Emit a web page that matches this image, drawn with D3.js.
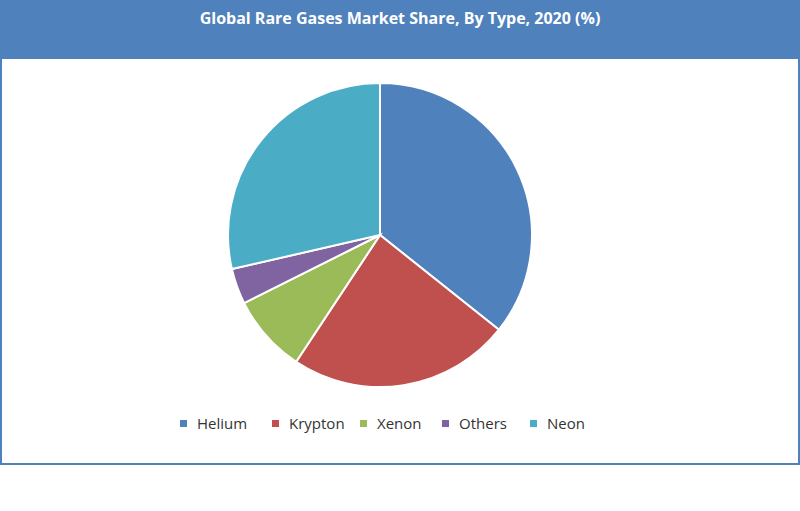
<!DOCTYPE html>
<html><head><meta charset="utf-8">
<script src="https://cdn.jsdelivr.net/npm/d3@7"></script>
<style>body{margin:0;background:#fff}</style>
</head><body>
<svg id="chart" width="800" height="511"></svg>
<script>
const categories = ["Helium", "Krypton", "Xenon", "Others", "Neon"];
const shares = [35.7, 23.6, 8.3, 3.8, 28.6];
const colors = ["#4f81bd", "#c0504d", "#9bbb59", "#8064a2", "#4bacc6"];

const svg = d3.select("#chart");
svg.append("rect").attr("x", 0).attr("y", 0).attr("width", 800).attr("height", 58).attr("fill", "#4f81bd");
svg.append("rect").attr("x", 1).attr("y", 58).attr("width", 798).attr("height", 406)
    .attr("fill", "#fff").attr("stroke", "#4f81bd").attr("stroke-width", 2);
svg.append("text").attr("x", 400).attr("y", 24).attr("text-anchor", "middle")
    .attr("fill", "#fff").style("font-family", "Open Sans, sans-serif")
    .style("font-size", "16px").style("font-weight", "bold")
    .text("Global Rare Gases Market Share, By Type, 2020 (%)");

const pie = d3.pie().sort(null).value(d => d);
const arc = d3.arc().innerRadius(0).outerRadius(152);
const g = svg.append("g").attr("transform", "translate(380,235)");
g.selectAll("path").data(pie(shares)).enter().append("path")
    .attr("d", arc).attr("fill", (d, i) => colors[i])
    .attr("stroke", "#fff").attr("stroke-width", 2);

const legendX = d3.scalePoint().domain(categories).range([0, 1]);
const widths = [92, 88, 82, 88, 60];
let x = 180;
const lg = svg.append("g");
categories.forEach((c, i) => {
    lg.append("rect").attr("x", x).attr("y", 420).attr("width", 7).attr("height", 7).attr("fill", colors[i]);
    lg.append("text").attr("x", x + 17).attr("y", 429).attr("fill", "#333")
        .style("font-family", "Open Sans, sans-serif").style("font-size", "15px").text(c);
    x += widths[i];
});
</script>
</body></html>
